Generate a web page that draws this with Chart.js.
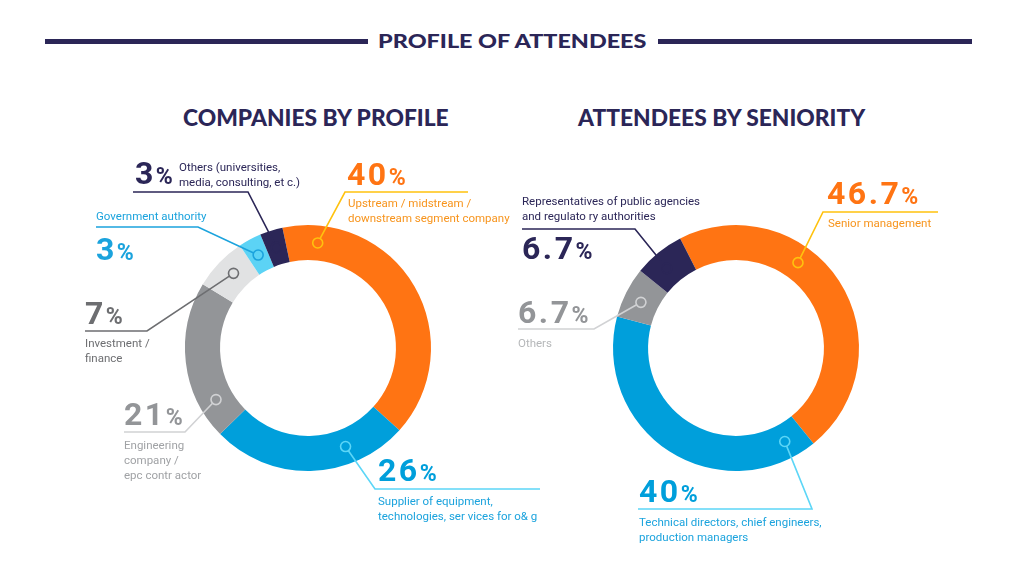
<!DOCTYPE html>
<html>
<head>
<meta charset="utf-8">
<script src="https://cdn.jsdelivr.net/npm/chart.js@4.4.1/dist/chart.umd.min.js"></script>
<style>
  html, body { margin: 0; padding: 0; background: #fff; }
  .page { position: relative; width: 1024px; height: 576px; overflow: hidden; background: #fff; }
  .page canvas { position: absolute; left: 0; top: 0; }
  .rule { position: absolute; height: 5px; background: #2b2657; top: 39px; }
  .title, .head { position: absolute; font-family: Lato, "Open Sans", sans-serif; font-weight: 900; color: #2b2657; white-space: nowrap; line-height: 1; }
  .title { font-size: 19px; top: 31px; left: 0; width: 1024px; text-align: center; transform: scaleX(1.23); transform-origin: 511px 0; }
  .head { font-size: 23.5px; top: 106px; transform: scaleX(0.97); transform-origin: 0 0; }
  .pct { position: absolute; font-family: Roboto, "Liberation Sans", sans-serif; font-weight: 700; font-size: 32px; line-height: 32px; letter-spacing: 2.5px; white-space: nowrap; }
  .pct span { font-size: 23px; letter-spacing: 0; }
  .txt { position: absolute; font-family: Roboto, "Liberation Sans", sans-serif; font-size: 11.5px; line-height: 15px; white-space: pre; }
</style>
</head>
<body>
<div class="page" id="page">
  <div class="rule" style="left:45px; width:323px;"></div>
  <div class="rule" style="left:658px; width:314px;"></div>
  <div class="title">PROFILE OF ATTENDEES</div>
  <div class="head" style="left:183px;">COMPANIES BY PROFILE</div>
  <div class="head" style="left:578px;">ATTENDEES BY SENIORITY</div>
  <canvas id="companiesChart" width="1024" height="576"></canvas>
  <canvas id="seniorityChart" width="1024" height="576"></canvas>
</div>
<script>
// Companies by profile
const companyLabels = [
  'Upstream / midstream /\ndownstream segment company',
  'Supplier of equipment,\ntechnologies, ser vices for o& g',
  'Engineering\ncompany /\nepc contr actor',
  'Investment /\nfinance',
  'Government authority',
  'Others (universities,\nmedia, consulting, et c.)'
];
const companyValues = [40, 26, 21, 7, 3, 3];
const companyColors = ['#ff7413', '#009fdb', '#939598', '#e1e2e3', '#5cd3f5', '#2b2657'];

// Attendees by seniority
const seniorityLabels = [
  'Senior management',
  'Technical directors, chief engineers,\nproduction managers',
  'Others',
  'Representatives of public agencies\nand regulato ry authorities'
];
const seniorityValues = [46.7, 40, 6.7, 6.7];
const seniorityColors = ['#ff7413', '#009fdb', '#939598', '#2b2657'];

// callout layout: where the marker sits along the slice, elbow and end of the leader, text spots
const companyCallouts = [
  { frac: 0.12, elbow: [345, 192], end: [468, 192], pct: [347, 162], txt: [348, 199], line: '#ffc20e', pctColor: '#ff7413', txtColor: '#f7941d' },
  { frac: 0.29, elbow: [375, 489], end: [540, 489], pct: [378, 458], txt: [378, 497], line: '#5cd6f7', pctColor: '#009fdb', txtColor: '#1ba3dd' },
  { frac: 0.2, elbow: [185, 432], end: [124, 432], pct: [124, 402], txt: [124, 441], line: '#d1d2d4', pctColor: '#939598', txtColor: '#a0a2a5' },
  { frac: 0.55, elbow: [147, 331], end: [85, 331], pct: [85, 301], txt: [85, 339], line: '#6d6e71', pctColor: '#6d6e71', txtColor: '#6d6e71' },
  { frac: 0.5, elbow: [198, 227], end: [96, 227], pct: [96, 237], txt: [96, 212], line: '#1ba3dd', pctColor: '#1ba3dd', txtColor: '#1ba3dd' },
  { frac: 0.5, elbow: [248, 192], end: [133, 192], pct: [135, 161], txt: [179, 163], line: '#2b2657', pctColor: '#2b2657', txtColor: '#2b2657' }
];
const seniorityCallouts = [
  { frac: 0.375, elbow: [823, 212], end: [938, 212], pct: [827, 181], txt: [828, 219], line: '#ffc20e', pctColor: '#ff7413', txtColor: '#f7941d' },
  { frac: 0.08, elbow: [812, 509], end: [638, 509], pct: [639, 479], txt: [639, 518], line: '#5cd6f7', pctColor: '#009fdb', txtColor: '#1ba3dd' },
  { frac: 0.45, elbow: [594, 329], end: [518, 329], pct: [518, 300], txt: [518, 339], line: '#d1d2d4', pctColor: '#939598', txtColor: '#b5b7b9' },
  { frac: 0.42, elbow: [635, 229], end: [522, 229], pct: [522, 236], txt: [522, 197], line: '#2b2657', pctColor: '#2b2657', txtColor: '#2b2657' }
];

function formatPct(v) {
  return Number.isInteger(v) ? String(v) : v.toFixed(1);
}

// draws marker rings and leader lines off the arc elements
const calloutPlugin = {
  id: 'callouts',
  afterDraw(chart, args, opts) {
    const ctx = chart.ctx;
    const arcs = chart.getDatasetMeta(0).data;
    opts.items.forEach((c, i) => {
      const a = arcs[i].getProps(['x', 'y', 'startAngle', 'endAngle', 'innerRadius', 'outerRadius'], true);
      const ang = a.startAngle + c.frac * (a.endAngle - a.startAngle);
      const r = (a.innerRadius + a.outerRadius) / 2;
      const mx = a.x + Math.cos(ang) * r;
      const my = a.y + Math.sin(ang) * r;
      const dx = c.elbow[0] - mx, dy = c.elbow[1] - my;
      const len = Math.sqrt(dx * dx + dy * dy);
      const rr = 5;
      ctx.save();
      ctx.strokeStyle = c.line;
      ctx.lineWidth = 1.6;
      ctx.beginPath();
      ctx.moveTo(mx + dx / len * rr, my + dy / len * rr);
      ctx.lineTo(c.elbow[0], c.elbow[1]);
      ctx.lineTo(c.end[0], c.end[1]);
      ctx.stroke();
      ctx.beginPath();
      ctx.arc(mx, my, rr, 0, Math.PI * 2);
      ctx.stroke();
      ctx.restore();
    });
  }
};

function addLabels(values, labels, callouts) {
  const page = document.getElementById('page');
  callouts.forEach((c, i) => {
    const p = document.createElement('div');
    p.className = 'pct';
    p.style.left = c.pct[0] + 'px';
    p.style.top = (c.pct[1] - 4) + 'px';
    p.style.color = c.pctColor;
    p.innerHTML = formatPct(values[i]) + '<span>%</span>';
    page.appendChild(p);

    const t = document.createElement('div');
    t.className = 'txt';
    t.style.left = c.txt[0] + 'px';
    t.style.top = (c.txt[1] - 3) + 'px';
    t.style.color = c.txtColor;
    t.textContent = labels[i];
    page.appendChild(t);
  });
}

function makeDoughnut(id, labels, values, colors, rotation, padding, callouts) {
  new Chart(document.getElementById(id), {
    type: 'doughnut',
    data: {
      labels: labels,
      datasets: [{
        data: values,
        backgroundColor: colors,
        borderWidth: 0,
        hoverOffset: 0
      }]
    },
    options: {
      responsive: false,
      animation: false,
      cutout: '71.5%',
      rotation: rotation,
      layout: { padding: padding },
      events: [],
      plugins: {
        legend: { display: false },
        tooltip: { enabled: false },
        callouts: { items: callouts }
      }
    },
    plugins: [calloutPlugin]
  });
}

document.addEventListener('DOMContentLoaded', function() {
  makeDoughnut('companiesChart', companyLabels, companyValues, companyColors, -12,
    { left: 185, right: 593, top: 225, bottom: 105 }, companyCallouts);
  makeDoughnut('seniorityChart', seniorityLabels, seniorityValues, seniorityColors, -27,
    { left: 613, right: 165, top: 225, bottom: 105 }, seniorityCallouts);

  addLabels(companyValues, companyLabels, companyCallouts);
  addLabels(seniorityValues, seniorityLabels, seniorityCallouts);
});
</script>
</body>
</html>
